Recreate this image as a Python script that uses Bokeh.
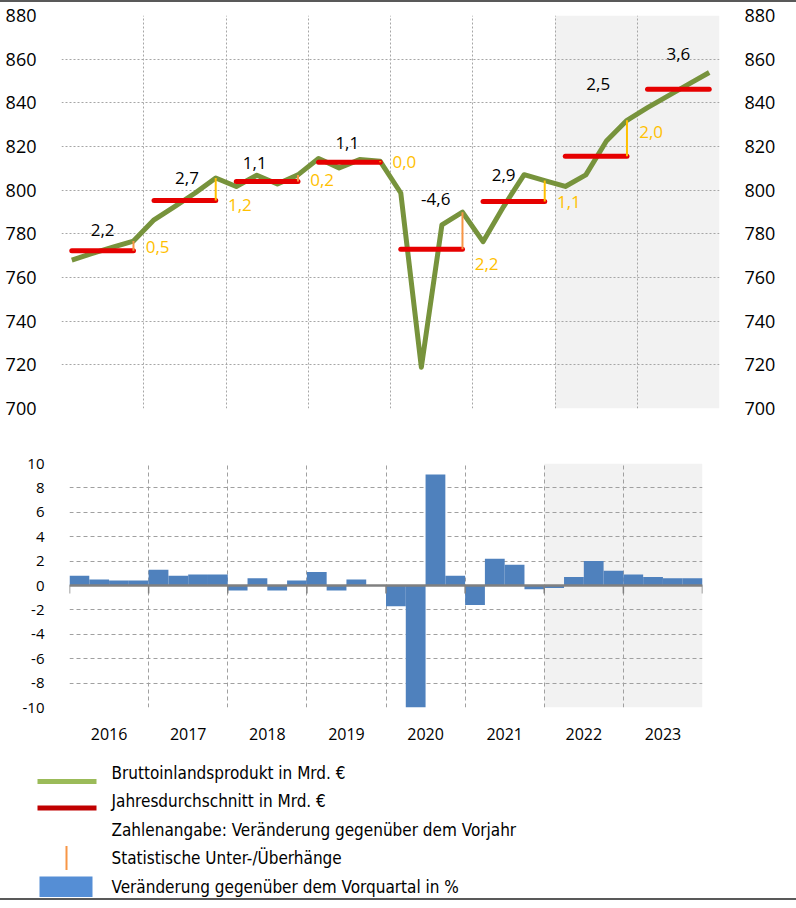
from bokeh.plotting import figure
from bokeh.models import Range1d, LinearAxis, FixedTicker, Grid, BoxAnnotation, Span, Div
from bokeh.layouts import column
from bokeh.core.properties import value
from bokeh.embed import file_html
from bokeh.resources import INLINE

# ---------------- data ----------------
years = [2016, 2017, 2018, 2019, 2020, 2021, 2022, 2023]
forecast_from = 2022

# quarterly GDP, bn EUR (2016 Q1 ... 2023 Q4)
gdp = [768.0, 771.0, 773.9, 776.7,
       786.4, 792.5, 798.7, 805.6,
       801.7, 806.8, 802.8, 807.0,
       814.5, 810.2, 814.0, 813.2,
       798.7, 718.9, 784.1, 789.9,
       776.4, 792.5, 807.1, 804.4,
       801.7, 807.0, 822.5, 832.0,
       837.8, 843.2, 848.6, 853.9]

# annual averages, bn EUR
annual_avg = [772.3, 795.3, 804.0, 812.8, 772.9, 794.8, 815.5, 846.2]

# change on previous year, %
annual_growth = ["2,2", "2,7", "1,1", "1,1", "-4,6", "2,9", "2,5", "3,6"]

# statistical carry-over (2016-2022)
overhang = ["0,5", "1,2", "0,2", "0,0", "2,2", "1,1", "2,0"]

# change on previous quarter, %
qoq = [0.8, 0.5, 0.4, 0.4,
       1.3, 0.8, 0.9, 0.9,
       -0.4, 0.6, -0.4, 0.4,
       1.1, -0.4, 0.5, 0.0,
       -1.7, -10.0, 9.1, 0.8,
       -1.6, 2.2, 1.7, -0.3,
       -0.2, 0.7, 2.0, 1.2,
       0.9, 0.7, 0.6, 0.6]

top_ticks = [700, 720, 740, 760, 780, 800, 820, 840, 860, 880]
bottom_ticks = [-10, -8, -6, -4, -2, 0, 2, 4, 6, 8, 10]

legend_labels = ["Bruttoinlandsprodukt in Mrd. €",
                 "Jahresdurchschnitt in Mrd. €",
                 "Zahlenangabe: Veränderung gegenüber dem Vorjahr",
                 "Statistische Unter-/Überhänge",
                 "Veränderung gegenüber dem Vorquartal in %"]

# ---------------- label placement (layout only) ----------------
growth_label_xq = [2.0, 2.1, 1.4, 1.9, 2.2, 1.5, 2.1, 2.0]   # quarter offset within year
growth_label_y = [781.9, 805.4, 812.3, 821.5, 795.9, 806.8, 848.8, 862.4]
overhang_label_y = [774.1, 793.3, 804.5, 812.8, 766.3, 794.8, 826.6]
overhang_colors = ["#F79646", "#FFC000", "#F79646", "#FFC000", "#F79646", "#FFC000", "#FFC000"]

FONT = "Open Sans"
LFONT = "'Noto Sans ExtraCondensed', 'Noto Sans Condensed', 'DejaVu Sans Condensed', Roboto, sans-serif"
W = 796
nq = len(gdp)
qx = [i + 0.5 for i in range(nq)]
ny = len(years)
fc = (years.index(forecast_from)) * 4
bounds = list(range(0, nq + 1, 4))


def rule():
    return Div(text="", width=W, height=2, margin=(0, 0, 0, 0),
               styles={"background-color": "#595959"})


# ---------------- top chart ----------------
pA = figure(width=W, height=426, x_range=Range1d(0, nq), y_range=Range1d(700, 880),
            x_axis_type=None, y_axis_type=None, toolbar_location=None, output_backend="svg",
            min_border_left=61, min_border_right=77, min_border_top=13, min_border_bottom=20)
pA.outline_line_color = None
pA.add_layout(BoxAnnotation(left=fc, right=nq, fill_color="#F2F2F2", fill_alpha=1,
                            line_color=None, level="underlay"))
pA.add_layout(Grid(dimension=0, ticker=FixedTicker(ticks=bounds), grid_line_color="#A6A6A6",
                   grid_line_dash="2 2", grid_line_width=1))
pA.add_layout(Grid(dimension=1, ticker=FixedTicker(ticks=top_ticks), grid_line_color="#A6A6A6",
                   grid_line_dash="2 2", grid_line_width=1))
for side in ("left", "right"):
    ax = LinearAxis(ticker=FixedTicker(ticks=top_ticks), axis_line_color=None,
                    major_tick_line_color=None, minor_tick_line_color=None,
                    major_label_text_font=FONT, major_label_text_font_size="18px",
                    major_label_text_color="#000000", major_label_standoff=19)
    pA.add_layout(ax, side)

pA.line(x=qx, y=gdp, line_color="#77933C", line_width=5, line_join="round")
pA.segment(x0=[4 * i + 0.5 for i in range(ny)], x1=[4 * i + 3.5 for i in range(ny)],
           y0=annual_avg, y1=annual_avg, line_color="#E60000", line_width=5, line_cap="round")
no = len(overhang)
pA.segment(x0=[4 * i + 3.5 for i in range(no)], x1=[4 * i + 3.5 for i in range(no)],
           y0=annual_avg[:no], y1=[gdp[4 * i + 3] for i in range(no)],
           line_color=overhang_colors, line_width=2)
pA.text(x=[4 * i + growth_label_xq[i] for i in range(ny)], y=growth_label_y, text=annual_growth,
        text_align="center", text_baseline="middle", text_font=value(FONT),
        text_font_size="17px", text_color="#000000")
pA.text(x=[4 * (i + 1) for i in range(no)], y=overhang_label_y, text=overhang, x_offset=2,
        text_align="left", text_baseline="middle", text_font=value(FONT),
        text_font_size="17px", text_color="#FFC000")

# ---------------- bottom chart ----------------
pB = figure(width=W, height=325, x_range=Range1d(0, nq), y_range=Range1d(-10, 10),
            x_axis_type=None, y_axis_type=None, toolbar_location=None, output_backend="svg",
            min_border_left=69, min_border_right=94, min_border_top=35, min_border_bottom=46)
pB.outline_line_color = None
pB.add_layout(BoxAnnotation(left=fc, right=nq, fill_color="#F2F2F2", fill_alpha=1,
                            line_color=None, level="underlay"))
pB.add_layout(Grid(dimension=0, ticker=FixedTicker(ticks=bounds), grid_line_color="#A0A0A0",
                   grid_line_dash="4 3", grid_line_width=1))
pB.add_layout(Grid(dimension=1, ticker=FixedTicker(ticks=bottom_ticks), grid_line_color="#A0A0A0",
                   grid_line_dash="4 3", grid_line_width=1))
axl = LinearAxis(ticker=FixedTicker(ticks=bottom_ticks), axis_line_color=None,
                 major_tick_line_color=None, minor_tick_line_color=None,
                 major_label_overrides={t: str(t) for t in bottom_ticks},
                 major_label_text_font=FONT, major_label_text_font_size="15px",
                 major_label_text_color="#000000", major_label_standoff=19)
pB.add_layout(axl, "left")
centers = [4 * i + 2 for i in range(ny)]
axb = LinearAxis(ticker=FixedTicker(ticks=centers), axis_line_color=None,
                 major_tick_line_color=None, minor_tick_line_color=None,
                 major_label_overrides={c: str(y) for c, y in zip(centers, years)},
                 major_label_text_font=FONT, major_label_text_font_size="16px",
                 major_label_text_color="#000000", major_label_standoff=14)
pB.add_layout(axb, "below")

pB.vbar(x=qx, width=1.0, top=qoq, bottom=0, fill_color="#4F81BD", line_color=None)
pB.add_layout(Span(location=0, dimension="width", line_color="#808080", line_width=2.5))
pB.segment(x0=bounds, x1=bounds, y0=[0] * len(bounds), y1=[-0.65] * len(bounds),
           line_color="#808080", line_width=1.5)

# ---------------- legend ----------------
HC = 145
pC = figure(width=W, height=HC, x_range=Range1d(0, W), y_range=Range1d(HC, 0),
            x_axis_type=None, y_axis_type=None, toolbar_location=None, output_backend="svg",
            min_border=0)
pC.outline_line_color = None
mid = [19 + 28.5 * i for i in range(len(legend_labels))]
pC.text(x=[111] * len(mid), y=mid, text=legend_labels, text_baseline="middle",
        text_align="left", text_font=value(LFONT), text_font_size="17px", text_color="#000000")
pC.segment(x0=[37, 37], x1=[96, 96], y0=[mid[0] + 9, mid[1] + 7], y1=[mid[0] + 9, mid[1] + 7],
           line_color=["#9BBB59", "#C00000"], line_width=5)
pC.segment(x0=[66], x1=[66], y0=[mid[3] - 12], y1=[mid[3] + 12], line_color="#F79646", line_width=2)
pC.quad(left=[39], right=[92], top=[mid[4] - 10], bottom=[mid[4] + 10.5],
        fill_color="#558ED5", line_color=None)

layout = column(rule(), column(pA), column(pB), column(pC), rule(), spacing=0)
open("out.html", "w").write(file_html(layout, INLINE))
